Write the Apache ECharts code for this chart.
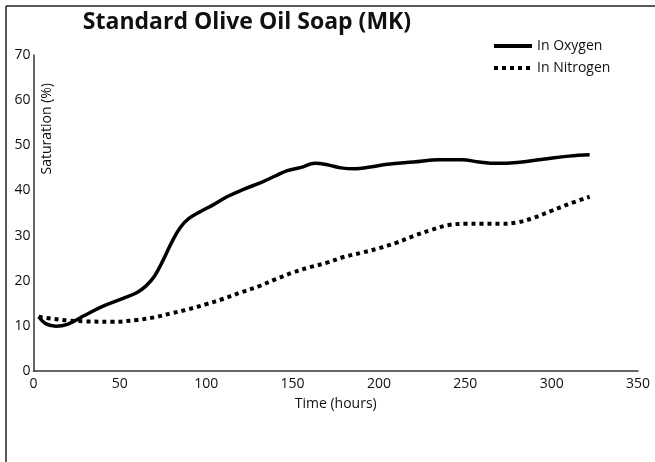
<!DOCTYPE html>
<html>
<head>
<meta charset="utf-8">
<script src="https://cdn.jsdelivr.net/npm/echarts@6/dist/echarts.min.js"></script>
<style>
  html, body { margin: 0; padding: 0; background: #fff; }
  #chart { width: 655px; height: 462px; }
</style>
</head>
<body>
<div id="chart"></div>
<script>
// time (hours), saturation (%)
const oxygen = [
  [3, 12], [7, 10.5], [13, 9.9], [20, 10.4], [30, 12.4], [40, 14.3], [50, 15.8],
  [60, 17.4], [65, 18.8], [70, 21], [75, 24.5], [80, 28.5], [85, 31.8], [90, 33.8],
  [97, 35.4], [104, 36.8], [112, 38.6], [122, 40.3], [132, 41.8], [140, 43.2],
  [147, 44.4], [155, 45.1], [163, 46], [170, 45.7], [178, 45], [186, 44.8], [195, 45.2],
  [205, 45.8], [220, 46.3], [235, 46.8], [248, 46.8], [258, 46.3], [268, 46],
  [280, 46.2], [295, 46.9], [310, 47.6], [322, 47.9]
];
const nitrogen = [
  [3, 12], [10, 11.6], [20, 11.2], [30, 11], [45, 10.9], [60, 11.3], [70, 11.9],
  [80, 12.8], [90, 13.7], [100, 14.8], [110, 16], [120, 17.4], [130, 18.7],
  [140, 20.3], [150, 21.8], [160, 23], [170, 24], [180, 25.3], [190, 26.2],
  [200, 27.2], [210, 28.4], [220, 29.9], [230, 31.2], [240, 32.3], [250, 32.6],
  [260, 32.6], [270, 32.6], [280, 32.9], [290, 34], [300, 35.5], [310, 37], [322, 38.6]
];
const seriesNames = ['In Oxygen', 'In Nitrogen'];

const font = '"Open Sans", "Noto Sans", sans-serif';
const chart = echarts.init(document.getElementById('chart'));

chart.setOption({
  backgroundColor: '#fff',
  animation: false,
  title: {
    text: 'Standard Olive Oil Soap (MK)',
    left: 242,
    textAlign: 'center',
    top: 6,
    textStyle: { fontFamily: font, fontSize: 23, fontWeight: 'bold', color: '#111' }
  },
  legend: {
    orient: 'vertical',
    left: 487,
    top: 34,
    itemWidth: 38,
    itemHeight: 12,
    itemGap: 8,
    data: seriesNames,
    itemStyle: { opacity: 0 },
    lineStyle: { width: 4 },
    textStyle: { fontFamily: font, fontSize: 14, color: '#111' }
  },
  grid: { left: 33.5, right: 17, top: 55, bottom: 91 },
  xAxis: {
    type: 'value',
    min: 0, max: 350, interval: 50,
    name: 'Time (hours)',
    nameLocation: 'middle',
    nameGap: 26,
    nameTextStyle: { fontFamily: font, fontSize: 14, color: '#111' },
    axisLine: { lineStyle: { color: '#333', width: 1.5 } },
    axisTick: { show: false },
    splitLine: { show: false },
    axisLabel: { fontFamily: font, fontSize: 14, color: '#111', margin: 6 }
  },
  yAxis: {
    type: 'value',
    min: 0, max: 70, interval: 10,
    axisLine: { show: true, lineStyle: { color: '#333', width: 1.5 } },
    axisTick: { show: false },
    splitLine: { show: false },
    axisLabel: { fontFamily: font, fontSize: 14, color: '#111', margin: 3 }
  },
  graphic: [
    { type: 'line', shape: { x1: 6, y1: 6, x2: 655, y2: 6 }, style: { stroke: '#222', lineWidth: 1.5 } },
    { type: 'line', shape: { x1: 6, y1: 6, x2: 6, y2: 462 }, style: { stroke: '#222', lineWidth: 1.5 } },
    {
      type: 'text', left: 40, top: 83, rotation: Math.PI / 2,
      style: { text: 'Saturation (%)', fontFamily: font, fontSize: 14, fill: '#111' }
    }
  ],
  series: [
    {
      name: seriesNames[0],
      type: 'line',
      data: oxygen,
      smooth: 0.4,
      symbol: 'none',
      lineStyle: { color: '#000', width: 3.5 },
      itemStyle: { color: '#000' }
    },
    {
      name: seriesNames[1],
      type: 'line',
      data: nitrogen,
      smooth: 0.4,
      symbol: 'none',
      lineStyle: { color: '#000', width: 4, type: [4, 4], cap: 'butt' },
      itemStyle: { color: '#000' }
    }
  ]
});
</script>
</body>
</html>
